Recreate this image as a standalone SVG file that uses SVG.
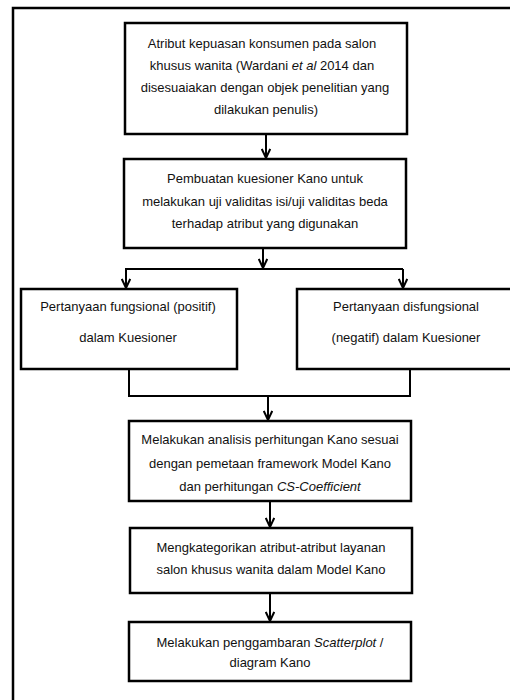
<svg xmlns="http://www.w3.org/2000/svg" width="510" height="700" viewBox="0 0 510 700">
<defs>
<style>
.box{fill:#fff;stroke:#000;stroke-width:2.5}
.t{font-family:"Liberation Sans",Arial,sans-serif;font-size:13px;fill:#111;text-anchor:middle}
.c{fill:none;stroke:#000;stroke-width:2}
.i{font-style:italic}
</style>
<marker id="ah" viewBox="0 0 10 10" refX="10" refY="5" markerWidth="5" markerHeight="5" orient="auto" markerUnits="strokeWidth">
<path d="M1,0.8 L10,5 L1,9.2" fill="none" stroke="#000" stroke-width="2"/>
</marker>
</defs>
<rect width="510" height="700" fill="#fff"/>
<g id="frame">
<path d="M13,700 V8 H510" fill="none" stroke="#000" stroke-width="2.5"/>
</g>
<g id="connectors">
<path class="c" d="M266,134 V158" marker-end="url(#ah)"/>
<path class="c" d="M263,248 V268"  marker-end="url(#ah)"/>
<path class="c" d="M125,269 H403"/>
<path class="c" d="M126,269 V288" marker-end="url(#ah)"/>
<path class="c" d="M403,269 V288" marker-end="url(#ah)"/>
<path class="c" d="M129,369 V396 H410 V369"/>
<path class="c" d="M268,396 V420" marker-end="url(#ah)"/>
<path class="c" d="M270,501 V527" marker-end="url(#ah)"/>
<path class="c" d="M270,593 V621" marker-end="url(#ah)"/>
</g>
<g id="n1">
<rect class="box" x="125" y="23" width="282" height="111"/>
<text class="t" x="262" y="48">Atribut kepuasan konsumen pada salon</text>
<text class="t" x="262" y="70">khusus wanita (Wardani <tspan class="i">et al</tspan> 2014 dan</text>
<text class="t" x="265" y="92">disesuaiakan dengan objek penelitian yang</text>
<text class="t" x="266" y="114">dilakukan penulis)</text>
</g>
<g id="n2">
<rect class="box" x="124" y="159" width="282" height="89"/>
<text class="t" x="265" y="183">Pembuatan kuesioner Kano untuk</text>
<text class="t" x="265" y="206">melakukan uji validitas isi/uji validitas beda</text>
<text class="t" x="265" y="228">terhadap atribut yang digunakan</text>
</g>
<g id="n3">
<rect class="box" x="21" y="289" width="216" height="80"/>
<text class="t" x="128" y="311">Pertanyaan fungsional (positif)</text>
<text class="t" x="128" y="342">dalam Kuesioner</text>
</g>
<g id="n4">
<rect class="box" x="297" y="289" width="220" height="80"/>
<text class="t" x="406" y="311">Pertanyaan disfungsional</text>
<text class="t" x="406" y="342">(negatif) dalam Kuesioner</text>
</g>
<g id="n5">
<rect class="box" x="129" y="421" width="282" height="80"/>
<text class="t" x="270" y="444">Melakukan analisis perhitungan Kano sesuai</text>
<text class="t" x="270" y="468">dengan pemetaan framework Model Kano</text>
<text class="t" x="270" y="491">dan perhitungan <tspan class="i">CS-Coefficient</tspan></text>
</g>
<g id="n6">
<rect class="box" x="130" y="528" width="282" height="65"/>
<text class="t" x="271" y="552">Mengkategorikan atribut-atribut layanan</text>
<text class="t" x="271" y="574">salon khusus wanita dalam Model Kano</text>
</g>
<g id="n7">
<rect class="box" x="129" y="622" width="282" height="59"/>
<text class="t" x="270" y="647">Melakukan penggambaran <tspan class="i">Scatterplot</tspan> /</text>
<text class="t" x="270" y="667">diagram Kano</text>
</g>
</svg>
